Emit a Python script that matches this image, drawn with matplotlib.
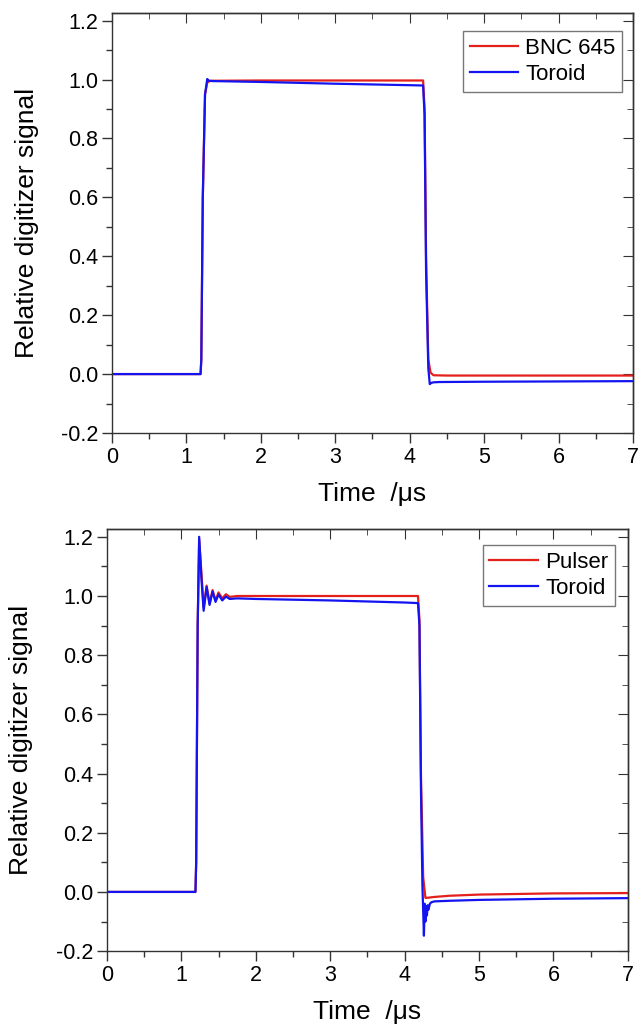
import numpy as np
import matplotlib
matplotlib.use("Agg")
import matplotlib.pyplot as plt
from matplotlib.ticker import MultipleLocator

plt.rcParams['font.family'] = ['Liberation Sans', 'DejaVu Sans']

# ---- top panel: BNC 645 vs toroid ----
t_bnc = [0, 1.19, 1.20, 1.22, 1.25, 1.28, 1.32, 2.0, 3.0, 4.0, 4.18, 4.20, 4.22, 4.25, 4.28, 4.32, 4.5, 5.0, 6.0, 7.0]
y_bnc = [0, 0, 0.05, 0.60, 0.95, 0.99, 0.996, 0.997, 0.997, 0.997, 0.997, 0.90, 0.40, 0.05, 0.005, -0.004, -0.005, -0.005, -0.005, -0.005]

t_tor1 = [0, 1.19, 1.20, 1.22, 1.25, 1.28, 1.30, 1.35, 2.0, 3.0, 4.0, 4.18, 4.20, 4.22, 4.25, 4.27, 4.29, 4.32, 4.4, 5.0, 6.0, 7.0]
y_tor1 = [0, 0, 0.05, 0.60, 0.95, 1.002, 0.996, 0.995, 0.992, 0.986, 0.981, 0.980, 0.88, 0.35, 0.02, -0.034, -0.030, -0.028, -0.027, -0.026, -0.025, -0.024]

# ---- bottom panel: pulser vs toroid ----
t_pul = [0, 1.19, 1.20, 1.22, 1.24, 1.27, 1.30, 1.34, 1.38, 1.42, 1.46, 1.50, 1.55, 1.60, 1.65, 1.75, 2.0, 3.0, 4.0, 4.18, 4.20, 4.22, 4.25, 4.28, 4.30, 4.4, 4.6, 5.0, 6.0, 7.0]
y_pul = [0, 0, 0.10, 0.90, 1.19, 1.08, 0.96, 1.035, 0.975, 1.02, 0.985, 1.012, 0.992, 1.006, 0.997, 1.0, 1.0, 1.0, 1.0, 1.0, 0.92, 0.40, 0.05, -0.02, -0.02, -0.017, -0.013, -0.009, -0.005, -0.004]

t_tor2 = [0, 1.19, 1.20, 1.22, 1.24, 1.27, 1.30, 1.34, 1.38, 1.42, 1.46, 1.50, 1.55, 1.60, 1.65, 1.75, 2.0, 3.0, 4.0, 4.18, 4.20, 4.22, 4.24, 4.26, 4.27, 4.28, 4.29, 4.30, 4.31, 4.32, 4.34, 4.36, 4.4, 4.6, 5.0, 6.0, 7.0]
y_tor2 = [0, 0, 0.10, 0.90, 1.20, 1.06, 0.95, 1.03, 0.97, 1.015, 0.98, 1.005, 0.985, 0.998, 0.99, 0.992, 0.99, 0.985, 0.978, 0.976, 0.90, 0.35, 0.02, -0.148, -0.04, -0.10, -0.05, -0.08, -0.045, -0.06, -0.04, -0.035, -0.032, -0.030, -0.027, -0.023, -0.021]

red = '#e3201b'
blue = '#1414f0'

fig = plt.figure(figsize=(6.4, 10.26), dpi=100)
ax1 = fig.add_axes([0.175, 0.578, 0.814, 0.409])
ax2 = fig.add_axes([0.167, 0.073, 0.814, 0.411])

panels = [(ax1, t_bnc, y_bnc, 'BNC 645', t_tor1, y_tor1, (0.979, 0.957)),
          (ax2, t_pul, y_pul, 'Pulser', t_tor2, y_tor2, (0.975, 0.962))]

for ax, tr, yr, lab, tb, yb, lpos in panels:
    ax.plot(tr, yr, color=red, lw=1.6, label=lab)
    ax.plot(tb, yb, color=blue, lw=1.6, label='Toroid')
    ax.set_xlim(0, 7)
    ax.set_ylim(-0.2, 1.225)
    ax.xaxis.set_major_locator(MultipleLocator(1))
    ax.xaxis.set_minor_locator(MultipleLocator(0.5))
    ax.yaxis.set_major_locator(MultipleLocator(0.2))
    ax.yaxis.set_minor_locator(MultipleLocator(0.1))
    ax.yaxis.set_major_formatter(matplotlib.ticker.FormatStrFormatter('%.1f'))
    ax.tick_params(which='both', direction='out', labelsize=15.5, width=1.0, color='#333333')
    ax.tick_params(which='major', length=7, pad=3)
    ax.tick_params(which='minor', length=4)
    # mirror ticks pointing inward on top / right
    axt = ax.secondary_xaxis('top')
    axt.xaxis.set_major_locator(MultipleLocator(1))
    axt.xaxis.set_minor_locator(MultipleLocator(0.5))
    axt.tick_params(which='both', direction='in', labeltop=False, color='#333333')
    axt.tick_params(which='major', length=7)
    axt.tick_params(which='minor', length=4)
    axr = ax.secondary_yaxis('right')
    axr.yaxis.set_major_locator(MultipleLocator(0.2))
    axr.yaxis.set_minor_locator(MultipleLocator(0.1))
    axr.tick_params(which='both', direction='in', labelright=False, color='#333333')
    axr.tick_params(which='major', length=7)
    axr.tick_params(which='minor', length=4)
    for s in list(ax.spines.values()) + [axt.spines['top'], axr.spines['right']]:
        s.set_color('#333333')
        s.set_linewidth(1.0)
    ax.set_xlabel('Time  /\u03bcs', fontsize=19, labelpad=10)
    ax.set_ylabel('Relative digitizer signal', fontsize=19, labelpad=16)
    ax.legend(loc='upper right', bbox_to_anchor=lpos, fontsize=16, frameon=True,
              fancybox=False, edgecolor='#555555', handlelength=2.2,
              handletextpad=0.3, borderpad=0.3, labelspacing=0.22,
              borderaxespad=0)

fig.savefig('out.png', dpi=100)
